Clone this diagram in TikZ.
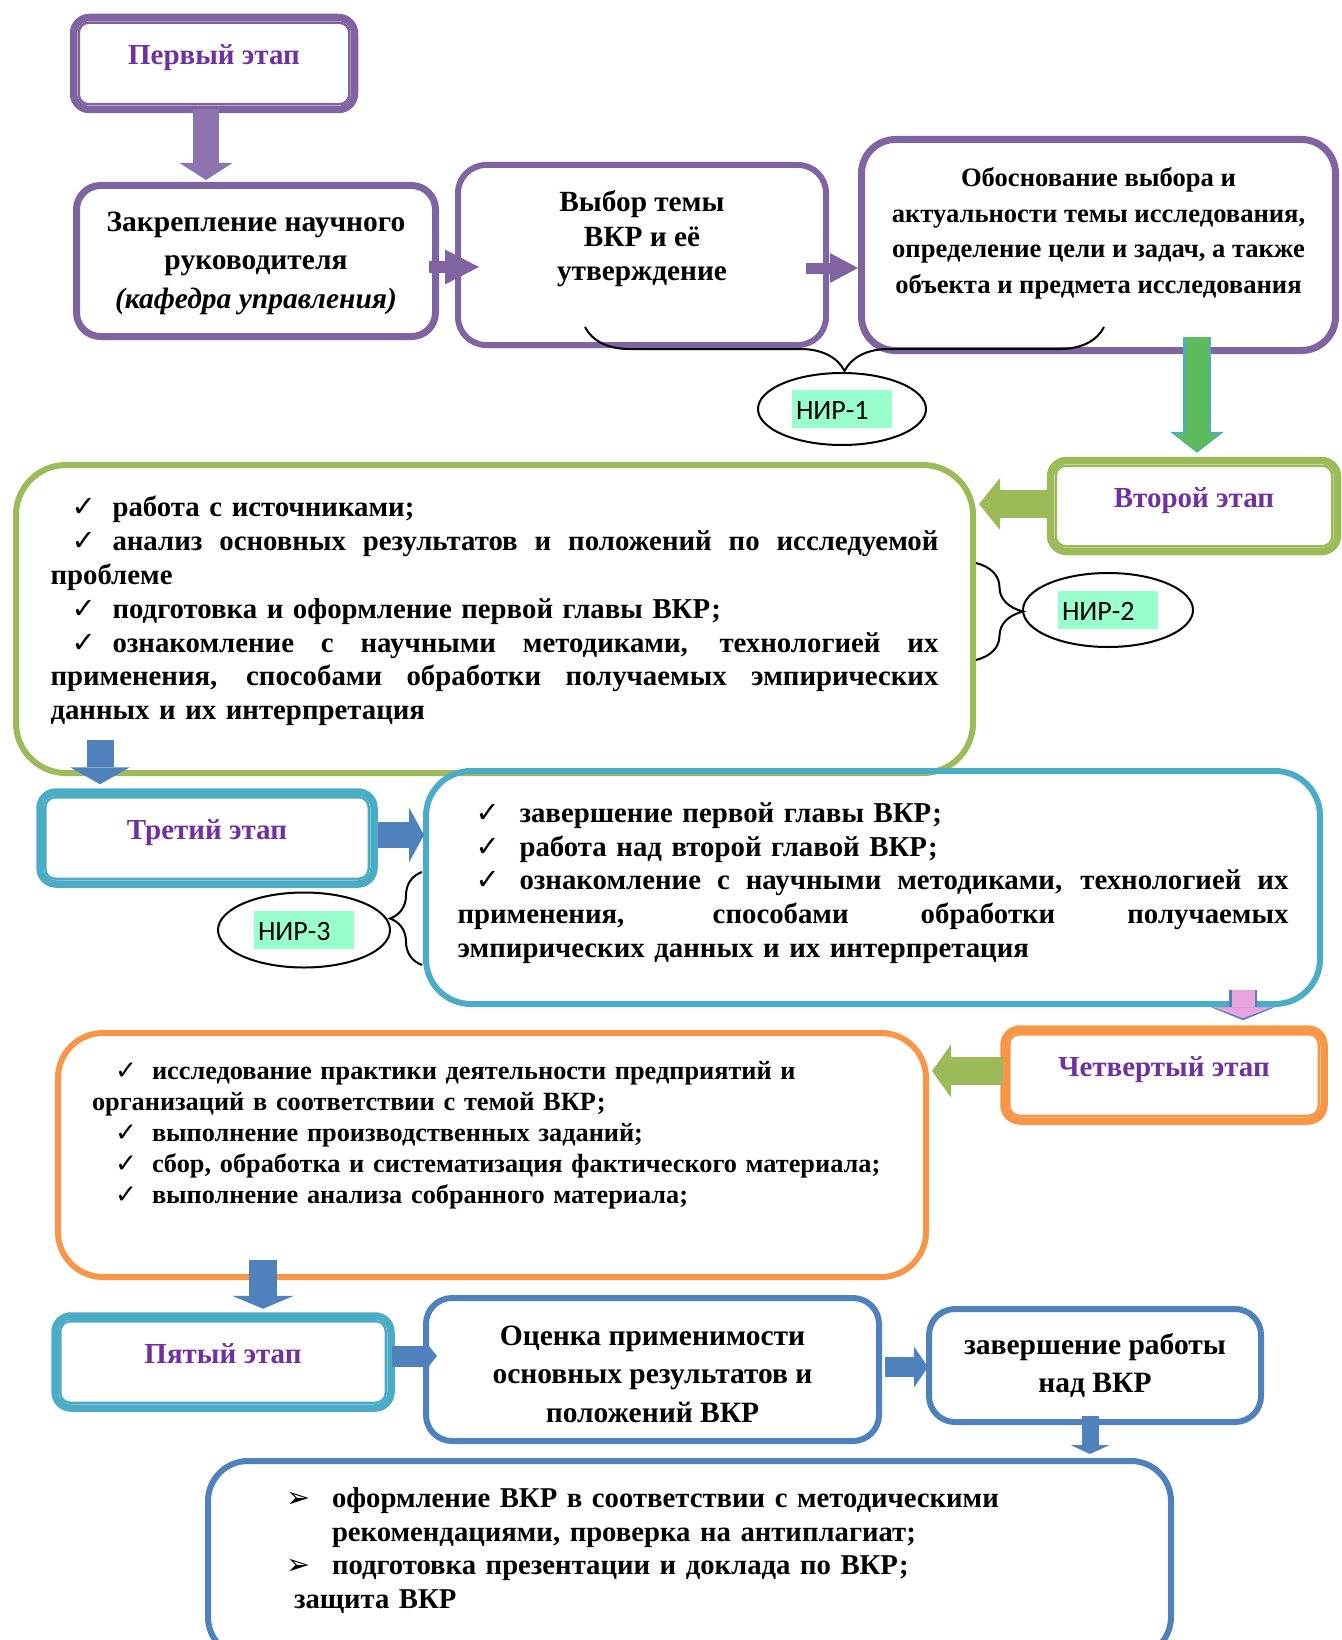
\documentclass[tikz,border=0pt]{standalone}
\usepackage{fontspec}
\setmainfont{Liberation Serif}
\newfontfamily\nirfont{Carlito}
\newfontfamily\symfont{DejaVu Sans}
\usetikzlibrary{arrows.meta,shapes.geometric,decorations.pathreplacing,positioning}

\definecolor{stpurple}{HTML}{8064A2}
\definecolor{stgreen}{HTML}{9BBB59}
\definecolor{stteal}{HTML}{4BACC6}
\definecolor{storange}{HTML}{F79646}
\definecolor{stblue}{HTML}{4F81BD}
\definecolor{titlepurple}{HTML}{7030A0}
\definecolor{nirgreen}{HTML}{99FFCC}
\definecolor{arrgreen}{HTML}{5CBB5C}
\definecolor{arrpink}{HTML}{E6A3DE}
\definecolor{arrpurple}{HTML}{8D74B0}

\setlength\parindent{0pt}
\setlength\fboxsep{4pt}
\newcommand{\ck}[2]{\hspace*{#1}\makebox[#2][l]{\symfont ✓}}
\newcommand{\bul}{\hspace*{-8pt}\makebox[46pt][l]{\symfont ➢}}
\newcommand{\jline}[2]{\makebox[#1][s]{\spaceskip=.25em plus 1fil\relax#2}}
\newcommand{\lastdp}[1]{\rule[-#1]{0pt}{0pt}}
\newcommand{\nirtag}[1]{\colorbox{nirgreen}{\makebox[92pt][l]{\rule[-5pt]{0pt}{30pt}#1}}}

\begin{document}
\begin{tikzpicture}[x=1pt,y=-1pt,
    stage/.style={draw=#1,line width=7.5pt,rounded corners=16pt,inner sep=0pt,
      font=\fontsize{29}{34}\selectfont\bfseries,text=titlepurple,text height=20pt,text depth=18pt},
    plainbox/.style={draw=#1,line width=6pt,rounded corners=28pt,align=center,inner sep=0pt,
      font=\fontsize{29.5}{38.5}\selectfont\bfseries},
    listbox/.style={draw=#1,line width=6pt,rounded corners=50pt,align=left,inner sep=0pt},
    nir/.style={ellipse,draw,line width=2pt,inner sep=0pt,font=\nirfont\fontsize{28}{34}\selectfont},
    barrow/.style n args={3}{line width=#1,-{Triangle[width=#2,length=#3,line width=0pt]}},
    brc/.style={decorate,decoration={brace,amplitude=#1},line width=2pt}]

\useasboundingbox (0,0) rectangle (1341,1640);

\node[stage=stpurple,minimum width=281pt,minimum height=92pt] (first) at (214,63.5) {Первый этап};
\node[plainbox=stpurple,line width=7pt,rounded corners=24pt,minimum width=359pt,minimum height=151pt,text depth=2pt] (zakr) at (256,261)
  {Закрепление научного\\руководителя\\\textit{(кафедра управления)}};
\node[plainbox=stpurple,minimum width=368pt,minimum height=180pt,text depth=38pt,
  font=\fontsize{29.3}{34.5}\selectfont\bfseries] (vybor) at (642,255) {Выбор темы\\ВКР и её\\утверждение};
\node[plainbox=stpurple,line width=7pt,rounded corners=34pt,minimum width=474pt,minimum height=211pt,text depth=29pt,
  font=\fontsize{26.6}{35.5}\selectfont\bfseries] (obosn) at (1098.5,245)
  {Обоснование выбора и\\актуальности темы исследования,\\определение цели и задач, а также\\объекта и предмета исследования};

\node[nir,minimum width=168pt,minimum height=72pt] (nir1) at (842,409) {\nirtag{НИР-1}};

\node[stage=stgreen,minimum width=287pt,minimum height=91pt] (vtoroy) at (1194,506) {Второй этап};
\node[listbox=stgreen,minimum width=957pt,minimum height=308pt,text width=888pt,
  font=\fontsize{28.8}{33.8}\selectfont\bfseries] (work2) at (494.5,619) {%
  \ck{21pt}{41pt}работа с источниками;\\
  \jline{888pt}{\ck{21pt}{41pt}анализ основных результатов и положений по исследуемой}\\
  проблеме\\
  \ck{21pt}{41pt}подготовка и оформление первой главы ВКР;\\
  \jline{888pt}{\ck{21pt}{41pt}ознакомление с научными методиками, технологией их}\\
  \jline{888pt}{применения, способами обработки получаемых эмпирических}\\
  данных и их интерпретация\lastdp{22pt}};
\node[nir,minimum width=170pt,minimum height=74pt] (nir2) at (1108,610) {\nirtag{НИР-2}};

\node[stage=stteal,minimum width=334pt,minimum height=92pt] (tretiy) at (207,838) {Третий этап};
\node[listbox=stteal,rounded corners=45pt,minimum width=894pt,minimum height=233pt,text width=831pt,
  font=\fontsize{28.8}{33.8}\selectfont\bfseries] (work3) at (873,887.5) {%
  \ck{18pt}{44pt}завершение первой главы ВКР;\\
  \ck{18pt}{44pt}работа над второй главой ВКР;\\
  \jline{831pt}{\ck{18pt}{44pt}ознакомление с научными методиками, технологией их}\\
  \jline{831pt}{применения, способами обработки получаемых}\\
  эмпирических данных и их интерпретация\lastdp{15pt}};
\node[nir,minimum width=172pt,minimum height=75pt] (nir3) at (304,930) {\nirtag{НИР-3}};

\node[stage=storange,minimum width=320pt,minimum height=92pt] (chetv) at (1164,1075) {Четвертый этап};
\node[listbox=storange,rounded corners=45pt,minimum width=868pt,minimum height=244pt,text width=800pt,
  font=\fontsize{26.3}{30.8}\selectfont\bfseries] (work4) at (492,1155) {%
  \ck{23pt}{37pt}исследование практики деятельности предприятий и\\
  организаций в соответствии с темой ВКР;\\
  \ck{23pt}{37pt}выполнение производственных заданий;\\
  \ck{23pt}{37pt}сбор, обработка и систематизация фактического материала;\\
  \ck{23pt}{37pt}выполнение анализа собранного материала;\lastdp{45pt}};

\node[stage=stteal,minimum width=336pt,minimum height=92pt] (pyatyy) at (223,1362) {Пятый этап};
\node[plainbox=stblue,rounded corners=26pt,minimum width=453pt,minimum height=143pt,text height=106pt] (ocenka) at (652.5,1369.5)
  {Оценка применимости\\основных результатов и\\положений ВКР};
\node[plainbox=stblue,rounded corners=26pt,minimum width=332pt,minimum height=113pt] (zaversh) at (1095,1365.5)
  {завершение работы\\над ВКР};
\node[listbox=stblue,rounded corners=40pt,minimum width=963pt,minimum height=196pt,text width=791pt,
  font=\fontsize{28.7}{33.7}\selectfont\bfseries] (final) at (689.5,1559) {%
  \bul оформление ВКР в соответствии с методическими\\
  \hspace*{38pt}рекомендациями, проверка на антиплагиат;\\
  \bul подготовка презентации и доклада по ВКР;\\
  защита ВКР\lastdp{22pt}};

\foreach \st/\col in {first/stpurple,vtoroy/stgreen,tretiy/stteal,chetv/storange,pyatyy/stteal}
  \draw[draw=\col,line width=2.5pt,rounded corners=10pt] ([shift={(9pt,-9pt)}]\st.north west) rectangle ([shift={(-9pt,9pt)}]\st.south east);

\draw[brc=44pt] (1104,327) -- (585,327);
\draw[brc=47pt] (976,563) -- (976,660);
\draw[brc=32pt] (422,965) -- (422,872);

\draw[arrpurple,barrow={26pt}{53pt}{17pt}] ([xshift=-8pt,yshift=4pt]first.south) -- ([xshift=-8pt,yshift=2pt]first.south |- zakr.north);
\draw[stpurple,barrow={12pt}{35pt}{34pt}] ([shift={(-10pt,-6pt)}]zakr.east) -- ([shift={(24pt,-6pt)}]zakr.east -| vybor.west);
\draw[stpurple,barrow={11pt}{30pt}{28pt}] ([shift={(-23pt,-13pt)}]vybor.east) -- ([yshift=-13pt]vybor.east -| obosn.west);
\draw[stteal,barrow={28pt}{54pt}{21pt}] ([xshift=3pt,yshift=17pt]vtoroy.north |- obosn.south) -- ([xshift=3pt,yshift=4pt]vtoroy.north);
\draw[arrgreen,barrow={23pt}{47pt}{18pt}] ([xshift=3pt,yshift=17pt]vtoroy.north |- obosn.south) -- ([xshift=3pt,yshift=5pt]vtoroy.north);
\draw[stgreen,barrow={28pt}{52pt}{21pt}] ([shift={(3pt,2pt)}]vtoroy.west) -- ([shift={(3pt,2pt)}]vtoroy.west -| work2.east);
\draw[stblue,barrow={27pt}{60pt}{17pt}] ([xshift=-107pt,yshift=36pt]tretiy.north |- work2.south) -- ([xshift=-107pt,yshift=4pt]tretiy.north);
\draw[stblue,barrow={26pt}{55pt}{15pt}] ([yshift=3pt]tretiy.east) -- ([shift={(1pt,3pt)}]tretiy.east -| work3.west);
\draw[stblue,barrow={28pt}{64pt}{13pt}] ([xshift=79pt,yshift=17pt]chetv.north |- work3.south) -- ([xshift=79pt,yshift=5pt]chetv.north);
\draw[arrpink,barrow={23pt}{58pt}{11pt}] ([xshift=79pt,yshift=17pt]chetv.north |- work3.south) -- ([xshift=79pt,yshift=7pt]chetv.north);
\draw[stgreen,barrow={28pt}{53pt}{19pt}] ([shift={(2.5pt,4pt)}]chetv.west) -- ([shift={(3pt,4pt)}]chetv.west -| work4.east);
\draw[stblue,barrow={28pt}{62pt}{13pt}] ([xshift=40pt,yshift=20pt]pyatyy.north |- work4.south) -- ([xshift=40pt,yshift=3.5pt]pyatyy.north);
\draw[stblue,barrow={21pt}{35pt}{14pt}] ([shift={(-2.5pt,6pt)}]pyatyy.east) -- ([shift={(14pt,6pt)}]pyatyy.east -| ocenka.west);
\draw[stblue,barrow={20pt}{41pt}{14pt}] ([shift={(3pt,2.5pt)}]ocenka.east) -- ([shift={(2pt,2.5pt)}]ocenka.east -| zaversh.west);
\draw[stblue,barrow={17pt}{39pt}{9pt}] ([xshift=-5pt,yshift=9pt]zaversh.south) -- ([xshift=-5pt,yshift=4pt]zaversh.south |- final.north);
\end{tikzpicture}
\end{document}
